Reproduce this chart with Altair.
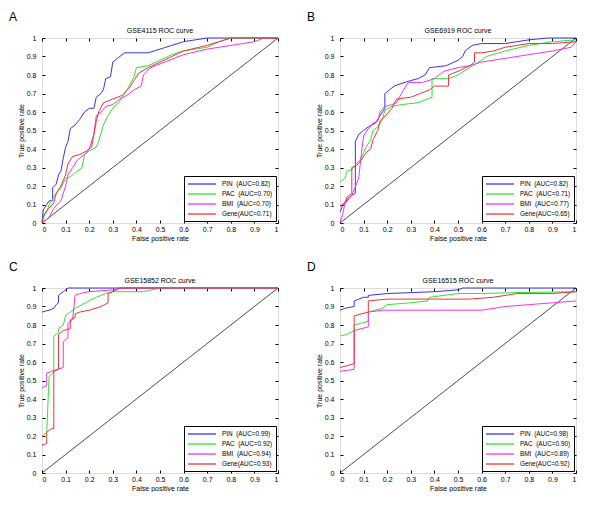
import altair as alt
import pandas as pd

FONT = "Liberation Sans"
TICKS = [0, 0.1, 0.2, 0.3, 0.4, 0.5, 0.6, 0.7, 0.8, 0.9, 1]
SERIES = ["PIN", "PAC", "BMI", "Gene"]
COLORS = ["#3535ee", "#35e035", "#ee35ee", "#ee3535"]

# ---------------- Panel A : GSE4115 ----------------
A_TITLE = "GSE4115 ROC curve"
A_AUC = ["0.82", "0.70", "0.70", "0.71"]
A_PIN = [(0, 0), (0.005, 0.07), (0.01, 0.08), (0.02, 0.10), (0.03, 0.12), (0.045, 0.12), (0.045, 0.19),
         (0.06, 0.21), (0.07, 0.26), (0.08, 0.28), (0.09, 0.35), (0.10, 0.41), (0.11, 0.44), (0.12, 0.51),
         (0.14, 0.53), (0.16, 0.56), (0.18, 0.60), (0.20, 0.62), (0.22, 0.62), (0.23, 0.68), (0.25, 0.70),
         (0.26, 0.72), (0.27, 0.78), (0.29, 0.79), (0.30, 0.87), (0.32, 0.89), (0.35, 0.92), (0.45, 0.92),
         (0.50, 0.94), (0.55, 0.96), (0.60, 0.98), (0.70, 1.0), (1.0, 1.0)]
A_PAC = [(0, 0.02), (0.02, 0.06), (0.03, 0.10), (0.04, 0.12), (0.06, 0.16), (0.08, 0.19), (0.10, 0.24),
         (0.12, 0.25), (0.15, 0.28), (0.17, 0.30), (0.18, 0.37), (0.20, 0.39), (0.23, 0.41), (0.24, 0.44),
         (0.26, 0.53), (0.28, 0.58), (0.30, 0.62), (0.33, 0.66), (0.36, 0.72), (0.39, 0.79), (0.40, 0.84),
         (0.45, 0.85), (0.50, 0.88), (0.55, 0.91), (0.60, 0.93), (0.70, 0.95), (0.75, 0.98), (0.80, 1.0),
         (1.0, 1.0)]
A_BMI = [(0, 0), (0.03, 0.03), (0.05, 0.08), (0.08, 0.12), (0.10, 0.20), (0.11, 0.26), (0.13, 0.30),
         (0.15, 0.34), (0.18, 0.37), (0.20, 0.40), (0.22, 0.48), (0.23, 0.58), (0.25, 0.60), (0.27, 0.63),
         (0.30, 0.64), (0.33, 0.67), (0.36, 0.69), (0.39, 0.72), (0.42, 0.74), (0.43, 0.80), (0.46, 0.84),
         (0.50, 0.86), (0.60, 0.91), (0.70, 0.94), (0.80, 0.96), (0.90, 0.98), (0.94, 1.0), (1.0, 1.0)]
A_GENE = [(0, 0), (0.01, 0.05), (0.03, 0.08), (0.05, 0.11), (0.06, 0.16), (0.08, 0.20), (0.10, 0.26),
          (0.11, 0.32), (0.13, 0.36), (0.16, 0.37), (0.19, 0.39), (0.21, 0.41), (0.22, 0.48), (0.23, 0.55),
          (0.24, 0.60), (0.26, 0.65), (0.30, 0.67), (0.34, 0.69), (0.37, 0.73), (0.39, 0.77), (0.41, 0.81),
          (0.45, 0.84), (0.50, 0.87), (0.55, 0.90), (0.60, 0.93), (0.70, 0.96), (0.80, 1.0), (1.0, 1.0)]

# ---------------- Panel B : GSE6919 ----------------
B_TITLE = "GSE6919 ROC curve"
B_AUC = ["0.82", "0.71", "0.77", "0.65"]
B_PIN = [(0, 0.06), (0.01, 0.09), (0.03, 0.12), (0.05, 0.15), (0.065, 0.16), (0.065, 0.44), (0.08, 0.48),
         (0.10, 0.50), (0.12, 0.52), (0.15, 0.54), (0.17, 0.58), (0.19, 0.62), (0.19, 0.70), (0.21, 0.72),
         (0.23, 0.74), (0.25, 0.75), (0.30, 0.77), (0.33, 0.78), (0.36, 0.80), (0.38, 0.84), (0.45, 0.85),
         (0.50, 0.88), (0.52, 0.90), (0.53, 0.93), (0.56, 0.96), (0.60, 0.97), (0.70, 0.97), (0.80, 0.99),
         (0.88, 1.0), (1.0, 1.0)]
B_PAC = [(0, 0.22), (0.02, 0.24), (0.03, 0.28), (0.05, 0.29), (0.07, 0.32), (0.09, 0.35), (0.10, 0.38),
         (0.11, 0.41), (0.13, 0.45), (0.14, 0.50), (0.16, 0.52), (0.18, 0.56), (0.19, 0.61), (0.22, 0.63),
         (0.26, 0.64), (0.33, 0.65), (0.37, 0.67), (0.39, 0.68), (0.39, 0.78), (0.46, 0.78), (0.50, 0.80),
         (0.55, 0.84), (0.60, 0.88), (0.62, 0.90), (0.70, 0.93), (0.80, 0.96), (0.90, 0.98), (1.0, 0.99)]
B_BMI = [(0, 0), (0.01, 0.04), (0.02, 0.10), (0.03, 0.13), (0.05, 0.15), (0.07, 0.21), (0.08, 0.25),
         (0.09, 0.37), (0.10, 0.47), (0.12, 0.51), (0.14, 0.54), (0.16, 0.55), (0.17, 0.60), (0.19, 0.63),
         (0.22, 0.64), (0.24, 0.65), (0.26, 0.70), (0.28, 0.74), (0.29, 0.76), (0.35, 0.76), (0.40, 0.78),
         (0.42, 0.80), (0.44, 0.82), (0.50, 0.84), (0.55, 0.85), (0.60, 0.87), (0.70, 0.89), (0.80, 0.91),
         (0.90, 0.93), (0.98, 0.95), (1.0, 0.98)]
B_GENE = [(0, 0.09), (0.02, 0.11), (0.03, 0.14), (0.05, 0.16), (0.05, 0.30), (0.07, 0.31), (0.09, 0.34),
          (0.11, 0.38), (0.13, 0.40), (0.14, 0.45), (0.16, 0.50), (0.17, 0.55), (0.20, 0.59), (0.22, 0.62),
          (0.24, 0.67), (0.30, 0.68), (0.34, 0.70), (0.38, 0.72), (0.40, 0.74), (0.46, 0.74), (0.46, 0.80),
          (0.50, 0.82), (0.55, 0.85), (0.57, 0.87), (0.57, 0.92), (0.60, 0.92), (0.65, 0.93), (0.70, 0.95),
          (0.80, 0.97), (0.90, 0.97), (1.0, 0.98)]

# ---------------- Panel C : GSE15852 ----------------
C_TITLE = "GSE15852 ROC curve"
C_AUC = ["0.99", "0.92", "0.94", "0.93"]
C_PIN = [(0, 0.87), (0.03, 0.88), (0.05, 0.89), (0.06, 0.91), (0.07, 0.92), (0.07, 0.96), (0.09, 0.98),
         (0.11, 1.0), (1.0, 1.0)]
C_PAC = [(0, 0.20), (0.02, 0.22), (0.03, 0.52), (0.05, 0.55), (0.05, 0.74), (0.07, 0.76), (0.07, 0.78),
         (0.09, 0.80), (0.10, 0.85), (0.12, 0.87), (0.14, 0.89), (0.17, 0.91), (0.20, 0.93), (0.23, 0.95),
         (0.27, 0.97), (0.30, 0.98), (0.43, 0.98), (0.50, 1.0), (1.0, 1.0)]
C_BMI = [(0, 0.46), (0.02, 0.47), (0.02, 0.54), (0.04, 0.55), (0.09, 0.57), (0.09, 0.71), (0.11, 0.73),
         (0.11, 0.81), (0.13, 0.83), (0.14, 0.96), (0.16, 0.97), (0.20, 0.98), (0.30, 0.99), (0.33, 1.0),
         (1.0, 1.0)]
C_GENE = [(0, 0.15), (0.02, 0.16), (0.02, 0.22), (0.04, 0.24), (0.05, 0.24), (0.05, 0.55), (0.07, 0.56),
          (0.07, 0.75), (0.09, 0.77), (0.12, 0.78), (0.12, 0.83), (0.14, 0.84), (0.14, 0.86), (0.16, 0.87),
          (0.20, 0.88), (0.25, 0.90), (0.28, 0.92), (0.28, 0.97), (0.30, 0.98), (0.33, 1.0), (1.0, 1.0)]

# ---------------- Panel D : GSE16515 ----------------
D_TITLE = "GSE16515 ROC curve"
D_AUC = ["0.98", "0.90", "0.89", "0.92"]
D_PIN = [(0, 0.88), (0.02, 0.89), (0.06, 0.90), (0.06, 0.93), (0.10, 0.95), (0.12, 0.95), (0.12, 0.96),
         (0.20, 0.97), (0.30, 0.975), (0.40, 0.98), (0.50, 0.99), (0.52, 1.0), (1.0, 1.0)]
D_PAC = [(0, 0.74), (0.03, 0.75), (0.06, 0.77), (0.06, 0.80), (0.12, 0.82), (0.12, 0.87), (0.18, 0.89),
         (0.20, 0.91), (0.30, 0.92), (0.37, 0.93), (0.38, 0.95), (0.50, 0.97), (0.60, 0.97), (0.74, 0.975),
         (1.0, 0.98)]
D_BMI = [(0, 0.55), (0.06, 0.56), (0.06, 0.77), (0.12, 0.79), (0.12, 0.87), (0.18, 0.88), (0.40, 0.88),
         (0.60, 0.88), (0.70, 0.90), (0.80, 0.91), (0.90, 0.92), (1.0, 0.93)]
D_GENE = [(0, 0.57), (0.06, 0.59), (0.06, 0.85), (0.12, 0.87), (0.12, 0.93), (0.20, 0.94), (0.40, 0.94),
          (0.55, 0.94), (0.65, 0.95), (0.75, 0.97), (0.90, 0.97), (1.0, 0.98)]

DIAG = [(0, 0), (1, 1)]

NB = "\u00a0"
W, H = 236, 185


def legend_labels(aucs):
    pads = [NB + NB, NB + NB, NB + NB, ""]
    return [f"{s}{p}(AUC={a})" for s, p, a in zip(SERIES, pads, aucs)]


def panel(letter, title, curves, aucs):
    labels = legend_labels(aucs)
    rows = []
    for lab, pts in zip(labels, curves):
        for i, (x, y) in enumerate(pts):
            rows.append({"fpr": x, "tpr": y, "label": lab, "idx": i})
    df = pd.DataFrame(rows)
    diag_df = pd.DataFrame(DIAG, columns=["fpr", "tpr"])

    sx = alt.Scale(domain=[0, 1], nice=False, zero=False)
    sy = alt.Scale(domain=[0, 1], nice=False, zero=False)
    base = dict(values=TICKS, format="~g", grid=False, domain=False, tickSize=3, offset=-3,
                tickColor="black", labelColor="black", labelFont=FONT, labelFontSize=7)
    ttl = dict(titleFont=FONT, titleFontSize=7, titleFontWeight="normal", titleColor="black")

    diag = alt.Chart(diag_df).mark_line(color="black", strokeWidth=0.7).encode(
        x=alt.X("fpr:Q", scale=sx, axis=alt.Axis(orient="top", labels=False, title="", **base)),
        y=alt.Y("tpr:Q", scale=sy, axis=alt.Axis(orient="right", labels=False, title="", **base)),
    )
    lines = alt.Chart(df).mark_line(strokeWidth=1, interpolate="linear").encode(
        x=alt.X("fpr:Q", scale=sx, axis=alt.Axis(orient="bottom", title="False positive rate",
                                                 labelPadding=2, titlePadding=2, **base, **ttl)),
        y=alt.Y("tpr:Q", scale=sy, axis=alt.Axis(orient="left", title="True positive rate",
                                                 labelPadding=6, titlePadding=2, **base, **ttl)),
        color=alt.Color("label:N", scale=alt.Scale(domain=labels, range=COLORS), sort=labels,
                        legend=alt.Legend(title=None, orient="bottom-right", offset=2,
                                          symbolType="M-1,0H6", symbolSize=64, symbolStrokeWidth=1.3,
                                          labelFont=FONT, labelFontSize=6.4, labelColor="black",
                                          strokeColor="black", fillColor="white", padding=3,
                                          rowPadding=1.0, labelOffset=25)),
        order="idx:Q",
    )
    tag = alt.Chart(pd.DataFrame({"t": [letter]})).mark_text(
        font=FONT, fontSize=12, align="left", baseline="alphabetic", color="black"
    ).encode(text="t:N", x=alt.value(-33), y=alt.value(-17))
    head = alt.Chart(pd.DataFrame({"t": [title]})).mark_text(
        font=FONT, fontSize=7, align="center", baseline="alphabetic", color="black"
    ).encode(text="t:N", x=alt.value(W / 2), y=alt.value(-5))

    return alt.layer(diag, lines, tag, head).resolve_axis(x="independent", y="independent").properties(
        width=W, height=H)


pA = panel("A", A_TITLE, [A_PIN, A_PAC, A_BMI, A_GENE], A_AUC)
pB = panel("B", B_TITLE, [B_PIN, B_PAC, B_BMI, B_GENE], B_AUC)
pC = panel("C", C_TITLE, [C_PIN, C_PAC, C_BMI, C_GENE], C_AUC)
pD = panel("D", D_TITLE, [D_PIN, D_PAC, D_BMI, D_GENE], D_AUC)

chart = alt.vconcat(
    alt.hconcat(pA, pB, spacing=25).resolve_scale(color="independent"),
    alt.hconcat(pC, pD, spacing=25).resolve_scale(color="independent"),
    spacing=18,
).resolve_scale(color="independent").properties(
    padding={"left": 0, "top": 2, "right": 0, "bottom": 0}
).configure_view(stroke="black", strokeWidth=0.8).configure(background="white")

chart.save("out.html", embed_options={"renderer": "svg", "actions": False})
